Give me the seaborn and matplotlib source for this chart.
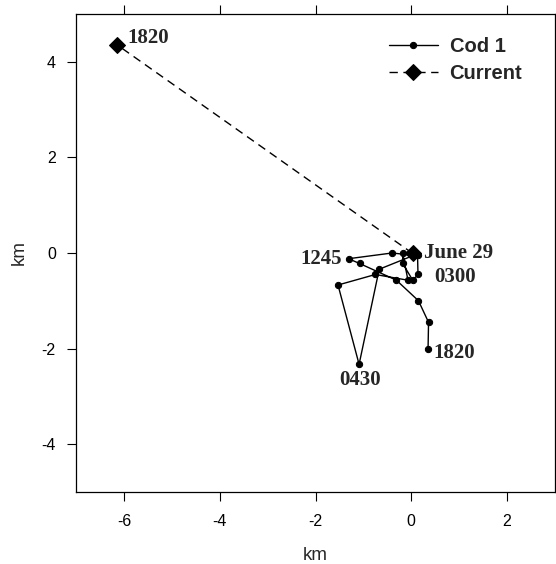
import matplotlib
matplotlib.use("Agg")
import matplotlib.pyplot as plt
import seaborn as sns
import pandas as pd

# Cod 1 track (km)
cod_x = [0.03, 0.13, 0.14, 0.03, -0.18, -0.18, -0.07, -0.75, -1.53, -1.09,
         -0.67, 0.05, -0.40, -1.31, -1.08, -0.31, 0.15, 0.36, 0.35]
cod_y = [-0.01, -0.04, -0.45, -0.57, -0.22, 0.0, -0.57, -0.45, -0.67, -2.33,
         -0.34, -0.05, 0.0, -0.12, -0.22, -0.57, -1.0, -1.45, -2.0]

# Current displacement (km)
cur_x = [0.03, -6.15]
cur_y = [-0.01, 4.36]

# Annotations: (text, x, y)
labels = ["June 29", "0300", "1245", "0430", "1820", "1820"]
label_x = [0.27, 0.92, -1.44, -1.08, 0.46, -5.92]
label_y = [0.0, -0.5, -0.13, -2.66, -2.09, 4.5]
label_ha = ["left", "center", "right", "center", "left", "left"]

xticks = [-6, -4, -2, 0, 2]
yticks = [-4, -2, 0, 2, 4]

sns.set_style("ticks")
plt.rcParams['font.family'] = ['Liberation Sans', 'DejaVu Sans']
plt.rcParams['axes.unicode_minus'] = False

fig = plt.figure(figsize=(5.56, 5.64), dpi=100)
ax = fig.add_axes([0.1367, 0.1277, 0.8615, 0.8475])

cod = pd.DataFrame({"x": cod_x, "y": cod_y})
cur = pd.DataFrame({"x": cur_x, "y": cur_y})

sns.lineplot(data=cod, x="x", y="y", sort=False, estimator=None, ax=ax,
             color="black", lw=1.0, marker="o", markersize=4.5,
             markeredgecolor="black", label="Cod 1")
sns.lineplot(data=cur, x="x", y="y", sort=False, estimator=None, ax=ax,
             color="black", lw=1.0, linestyle=(0, (6, 4)), marker="D",
             markersize=8, markeredgecolor="black", label="Current")

for t, x, y, ha in zip(labels, label_x, label_y, label_ha):
    ax.text(x, y, t, ha=ha, va="center", fontsize=15, fontweight="bold",
            family=["Liberation Serif", "DejaVu Serif"])

ax.set_xlim(-7, 3)
ax.set_ylim(-5, 5)
ax.set_xticks(xticks)
ax.set_yticks(yticks)
ax.tick_params(axis="both", direction="out", length=6.5, width=0.8,
               labelsize=11.5, color="black", labelcolor="black")
ax.tick_params(axis="x", top=True, pad=9)
ax.tick_params(axis="y", right=True, pad=8)
for s in ax.spines.values():
    s.set_visible(True)
    s.set_linewidth(0.9)
    s.set_color("black")

ax.set_xlabel("km", fontsize=13.5, labelpad=13)
ax.set_ylabel("km", fontsize=13.5, labelpad=10)

leg = ax.legend(loc="upper left", bbox_to_anchor=(0.616, 0.989), frameon=False,
                fontsize=14.5, handlelength=2.4, handletextpad=0.6,
                labelspacing=0.38)
for txt in leg.get_texts():
    txt.set_fontweight("bold")

fig.savefig("out.png", dpi=100)
